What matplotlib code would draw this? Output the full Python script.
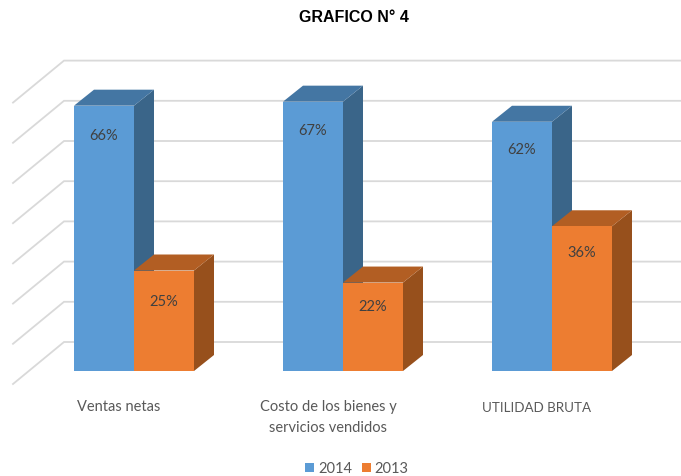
import matplotlib
matplotlib.use("Agg")
import matplotlib.pyplot as plt
import numpy as np
from matplotlib.patches import Polygon

categories = ["Ventas netas", "Costo de los bienes y\nservicios vendidos", "UTILIDAD BRUTA"]
series_names = ["2014", "2013"]
values_2014 = [66, 67, 62]
values_2013 = [25, 22, 36]
grid_values = [0, 10, 20, 30, 40, 50, 60, 70]
title = "GRAFICO N° 4"

W, H = 681, 477
AX_BOTTOM_PX = 396        # pixel row of the axes' lower edge
BASE_PX = 372             # pixel row of value 0 on the bars' front plane
CAT_X0_PX = 134           # pixel column of the first category's centre
CAT_STEP_PX = 209
PX_PER_PCT = 4.02

bar_w = 60 / CAT_STEP_PX
depth_x = 20 / CAT_STEP_PX
depth_y = 16 / PX_PER_PCT
grid_front_x = (13 - CAT_X0_PX) / CAT_STEP_PX
grid_back_x = (64 - CAT_X0_PX) / CAT_STEP_PX
grid_front_y = -13 / PX_PER_PCT
grid_back_y = 29 / PX_PER_PCT

# distance of each data label below its bar top, in pixels
label_drop = {"2014": [29, 28, 27], "2013": [30, 23, 26]}

colors = {"2014": ("#5B9BD5", "#3A6589", "#4476A3"),
          "2013": ("#ED7D31", "#97501C", "#B25E23")}
TEXT = "#595959"

plt.rcParams["font.family"] = ["Lato", "DejaVu Sans"]
fig = plt.figure(figsize=(W / 100, H / 100), dpi=100)
ax = fig.add_axes([0, (H - AX_BOTTOM_PX) / H, 1, AX_BOTTOM_PX / H])
ax.set_xlim(-CAT_X0_PX / CAT_STEP_PX, (W - CAT_X0_PX) / CAT_STEP_PX)
ax.set_ylim(-(AX_BOTTOM_PX - BASE_PX) / PX_PER_PCT, BASE_PX / PX_PER_PCT)
for s in ax.spines.values():
    s.set_visible(False)
ax.set_yticks([])

# Gridlines: floor/side run plus the back wall
x_right = ax.get_xlim()[1]
for g in grid_values:
    ax.plot([grid_front_x, grid_back_x, x_right],
            [g + grid_front_y, g + grid_back_y, g + grid_back_y],
            color="#D9D9D9", lw=1.3, zorder=1, solid_joinstyle="miter")

x = np.arange(len(categories))
z = 2
for name, vals, off in [(series_names[0], values_2014, -bar_w / 2),
                        (series_names[1], values_2013, bar_w / 2)]:
    front, side, top = colors[name]
    z += 1
    bars = ax.bar(x + off, vals, width=bar_w, color=front, label=name, zorder=z + 0.5)
    for xi, v, drop in zip(x + off, vals, label_drop[name]):
        l, r = xi - bar_w / 2, xi + bar_w / 2
        ax.add_patch(Polygon([(r, 0), (r + depth_x, depth_y), (r + depth_x, v + depth_y), (r, v)],
                             closed=True, fc=side, ec="none", zorder=z))
        ax.add_patch(Polygon([(l, v), (l + depth_x, v + depth_y), (r + depth_x, v + depth_y), (r, v)],
                             closed=True, fc=top, ec="none", zorder=z))
        ax.text(xi, v - drop / PX_PER_PCT, f"{v}%", ha="center", va="center", fontsize=10.5,
                color="#404040", zorder=10)

ax.set_xticks(x - 15 / CAT_STEP_PX)
ax.set_xticklabels(categories, fontsize=10.5, color=TEXT, linespacing=1.6)
ax.get_xticklabels()[2].set_fontsize(9.6)
ax.get_xticklabels()[2].set_y(-0.004)
ax.tick_params(axis="x", length=0, pad=3)

fig.text(354 / W, 1 - 17 / H, title, ha="center", va="center", fontsize=11.5,
         fontweight="bold", family="Liberation Sans", color="black")

ax.legend(loc="center", bbox_to_anchor=(357 / W, 1 - 469.5 / H), bbox_transform=fig.transFigure,
          ncols=2, frameon=False, fontsize=10.5, labelcolor=TEXT, handlelength=0.62,
          handleheight=0.62, handletextpad=0.27, columnspacing=0.65, borderpad=0)

fig.savefig("out.png", dpi=100, facecolor="white")
